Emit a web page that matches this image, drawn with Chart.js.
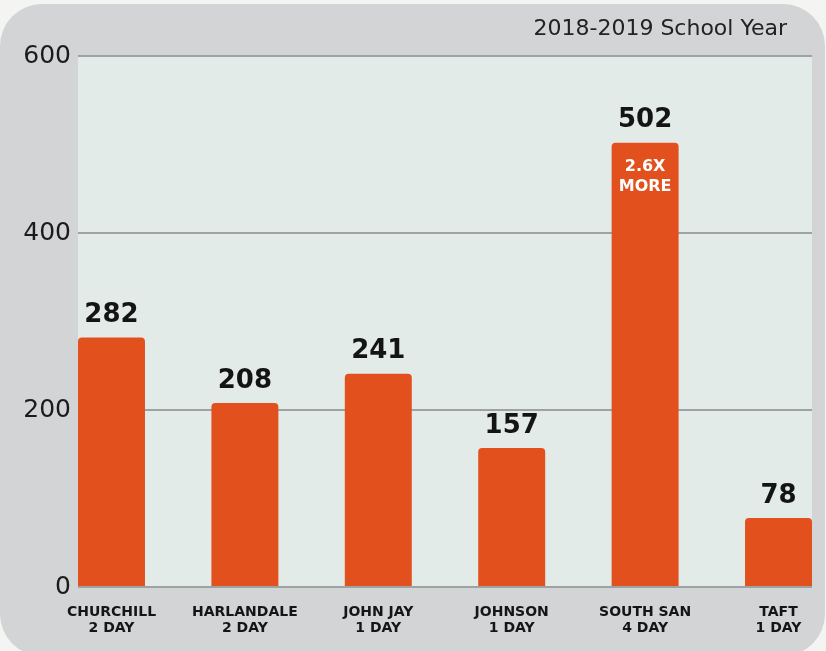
<!DOCTYPE html>
<html>
<head>
<meta charset="utf-8">
<script src="https://cdn.jsdelivr.net/npm/chart.js@4"></script>
<style>
  body { margin: 0; background: #f4f4f2; }
  #panel { position: absolute; left: 0; top: 4px; width: 825px; height: 652px; border-radius: 42px; background: #d3d4d6; }
  #wrap { position: absolute; left: 0; top: 0; width: 826px; height: 651px; }
</style>
</head>
<body>
<div id="panel"></div>
<div id="wrap"><canvas id="canvas" width="826" height="651"></canvas></div>
<script>
const schools = ['CHURCHILL', 'HARLANDALE', 'JOHN JAY', 'JOHNSON', 'SOUTH SAN', 'TAFT'];
const schedule = ['2 DAY', '2 DAY', '1 DAY', '1 DAY', '4 DAY', '1 DAY'];
const counts = [282, 208, 241, 157, 502, 78];
const yTicks = [0, 200, 400, 600];
const title = '2018-2019 School Year';
const callout = ['2.6X', 'MORE'];
const calloutIndex = 4;

const font = '"DejaVu Sans", sans-serif';
const ctx = document.getElementById('canvas').getContext('2d');

// plot background + title
const backdrop = {
  id: 'backdrop',
  beforeDraw(chart) {
    const a = chart.chartArea, c = chart.ctx;
    c.save();
    c.fillStyle = '#e3ebe9';
    c.fillRect(a.left, a.top, a.right - a.left, a.bottom - a.top);
    c.restore();
  },
  afterDraw(chart) {
    const c = chart.ctx;
    c.save();
    c.font = '22px ' + font;
    c.fillStyle = '#222';
    c.textAlign = 'right';
    c.textBaseline = 'middle';
    c.fillText(title, chart.chartArea.right - 25, 29);
    c.restore();
  }
};

// numbers above bars and the callout inside one bar
const barText = {
  id: 'barText',
  afterDatasetsDraw(chart) {
    const c = chart.ctx;
    const meta = chart.getDatasetMeta(0);
    c.save();
    c.textAlign = 'center';
    c.textBaseline = 'middle';
    meta.data.forEach((bar, i) => {
      c.font = 'bold 26px ' + font;
      c.fillStyle = '#141414';
      c.fillText(counts[i], bar.x, bar.y - 22);
      if (i === calloutIndex) {
        c.font = 'bold 16px ' + font;
        c.fillStyle = '#fff';
        callout.forEach((t, k) => c.fillText(t, bar.x, bar.y + 24 + k * 20));
      }
    });
    c.restore();
  }
};

new Chart(ctx, {
  type: 'bar',
  data: {
    datasets: [{
      data: counts.map((v, i) => ({ x: i, y: v })),
      backgroundColor: '#e1501d',
      borderRadius: { topLeft: 4, topRight: 4 },
      borderSkipped: 'bottom',
      categoryPercentage: 1,
      barPercentage: 0.502
    }]
  },
  options: {
    responsive: false,
    animation: false,
    layout: { padding: { top: 56, right: 14, left: 0, bottom: 0 } },
    plugins: { legend: { display: false }, tooltip: { enabled: false } },
    scales: {
      x: {
        type: 'linear',
        min: -0.251,
        max: 5.251,
        offset: false,
        grid: { display: false, offset: false },
        border: { display: false },
        afterBuildTicks: s => { s.ticks = schools.map((_, i) => ({ value: i })); },
        afterFit: s => { s.height = 64; },
        ticks: {
          autoSkip: false,
          maxRotation: 0,
          padding: 9,
          color: '#151515',
          font: { family: font, weight: 'bold', size: 14, lineHeight: 1.15 },
          callback: v => [schools[v], schedule[v]]
        }
      },
      y: {
        min: 0,
        max: 600,
        afterBuildTicks: s => { s.ticks = yTicks.map(v => ({ value: v })); },
        afterFit: s => { s.width = 78; },
        grid: { color: '#9da2a2', lineWidth: 2, drawTicks: false },
        border: { display: false },
        ticks: {
          padding: 7,
          color: '#1b1b1b',
          font: { family: font, size: 25 }
        }
      }
    }
  },
  plugins: [backdrop, barText]
});
</script>
</body>
</html>
